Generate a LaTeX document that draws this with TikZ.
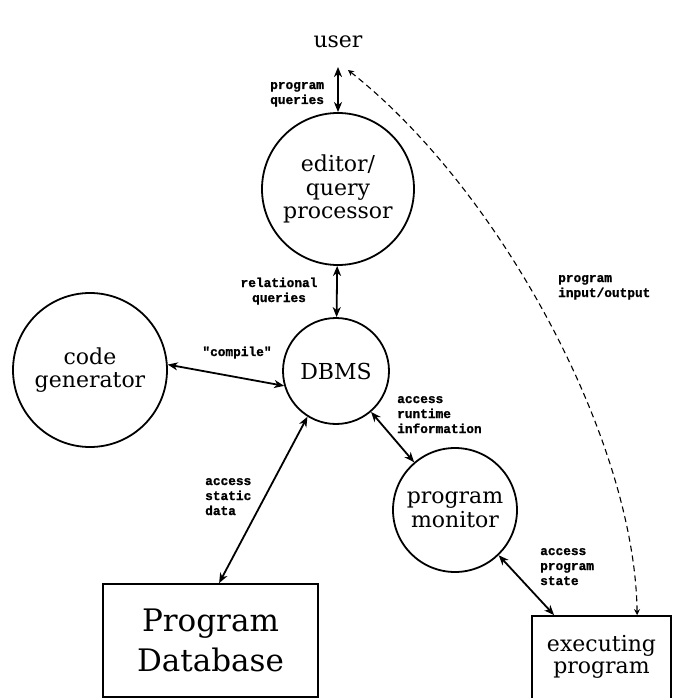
\documentclass[tikz,border=0pt]{standalone}
\usepackage{fontspec}
\setmainfont{DejaVu Serif}
\newfontfamily\lblfont[FakeBold=1.2]{Liberation Mono Bold}
\usetikzlibrary{arrows.meta}
\begin{document}
\begin{tikzpicture}[x=1pt,y=-1pt,
  proc/.style={circle, draw, line width=1.8pt, inner sep=0pt, align=center,
    font=\fontsize{22}{23.5}\selectfont},
  store/.style={rectangle, draw, line width=1.8pt, inner sep=0pt},
  bigtext/.style={inner sep=0pt, align=center},
  lbl/.style={inner sep=0pt, align=left, font=\lblfont\fontsize{12.8}{15}\selectfont},
  flow/.style={line width=1.8pt,
    {Stealth[length=10pt,width=8pt,inset=3pt]}-{Stealth[length=10pt,width=8pt,inset=3pt]}},
  io/.style={line width=1.1pt, dash pattern=on 6pt off 4pt,
    {Stealth[length=6pt,width=6pt,inset=2pt]}-{Stealth[length=6pt,width=6pt,inset=2pt]}}]
\useasboundingbox (0,0) rectangle (684,698);
\clip (0,0) rectangle (684,698);
% nodes
\node[inner sep=0pt, anchor=base, font=\fontsize{22}{23.5}\selectfont] (user) at (338,48) {user};
\node[proc, minimum size=152pt] (ed) at (338,189) {editor/\\query\\processor};
\node[proc, minimum size=106pt] (db) at (336,371) {DBMS};
\node[proc, minimum size=154pt] (cg) at (90,370) {code\\generator};
\node[proc, minimum size=124pt] (mon) at (455,510) {program\\monitor};
\node[store, minimum width=215pt, minimum height=113pt] (pdb) at (210.5,640.5) {};
\node[bigtext, font=\fontsize{31}{40}\selectfont] (pdbt) at (210.5,640) {Program\\Database};
\node[store, minimum width=139pt, minimum height=100pt] (ex) at (601.5,666) {};
\node[bigtext, font=\fontsize{22}{22}\selectfont] (ext) at (601.5,657) {executing\\program};
% labels (base anchor = last line's baseline)
\node[lbl, anchor=base west] (lpq) at (270,104) {program\\queries};
\node[lbl, anchor=base, align=center] (lrq) at (279,302) {relational\\queries};
\node[lbl, anchor=base] (lcomp) at (237,356) {"compile"};
\node[lbl, anchor=base west] (lrt) at (397,433) {access\\runtime\\information};
\node[lbl, anchor=base west] (lsd) at (205,515) {access\\static\\data};
\node[lbl, anchor=base west] (lps) at (540,585) {access\\program\\state};
\node[lbl, anchor=base west] (lio) at (558,297) {program\\input/output};
% connectors
\draw[flow] ([yshift=-19pt]user.base) -- (ed.north);
\draw[flow] (ed) -- (db);
\draw[flow] (cg.4) -- (db.196);
\draw[flow] (db) -- (mon);
\draw[flow] (db.238) -- ([xshift=117pt]pdb.north west);
\draw[flow] (mon.-46) -- ([xshift=23pt]ex.north west);
\draw[io] ([xshift=10pt,yshift=-22pt]user.base) .. controls (500,190) and (635,440) .. ([xshift=106pt]ex.north west);
\end{tikzpicture}
\end{document}
